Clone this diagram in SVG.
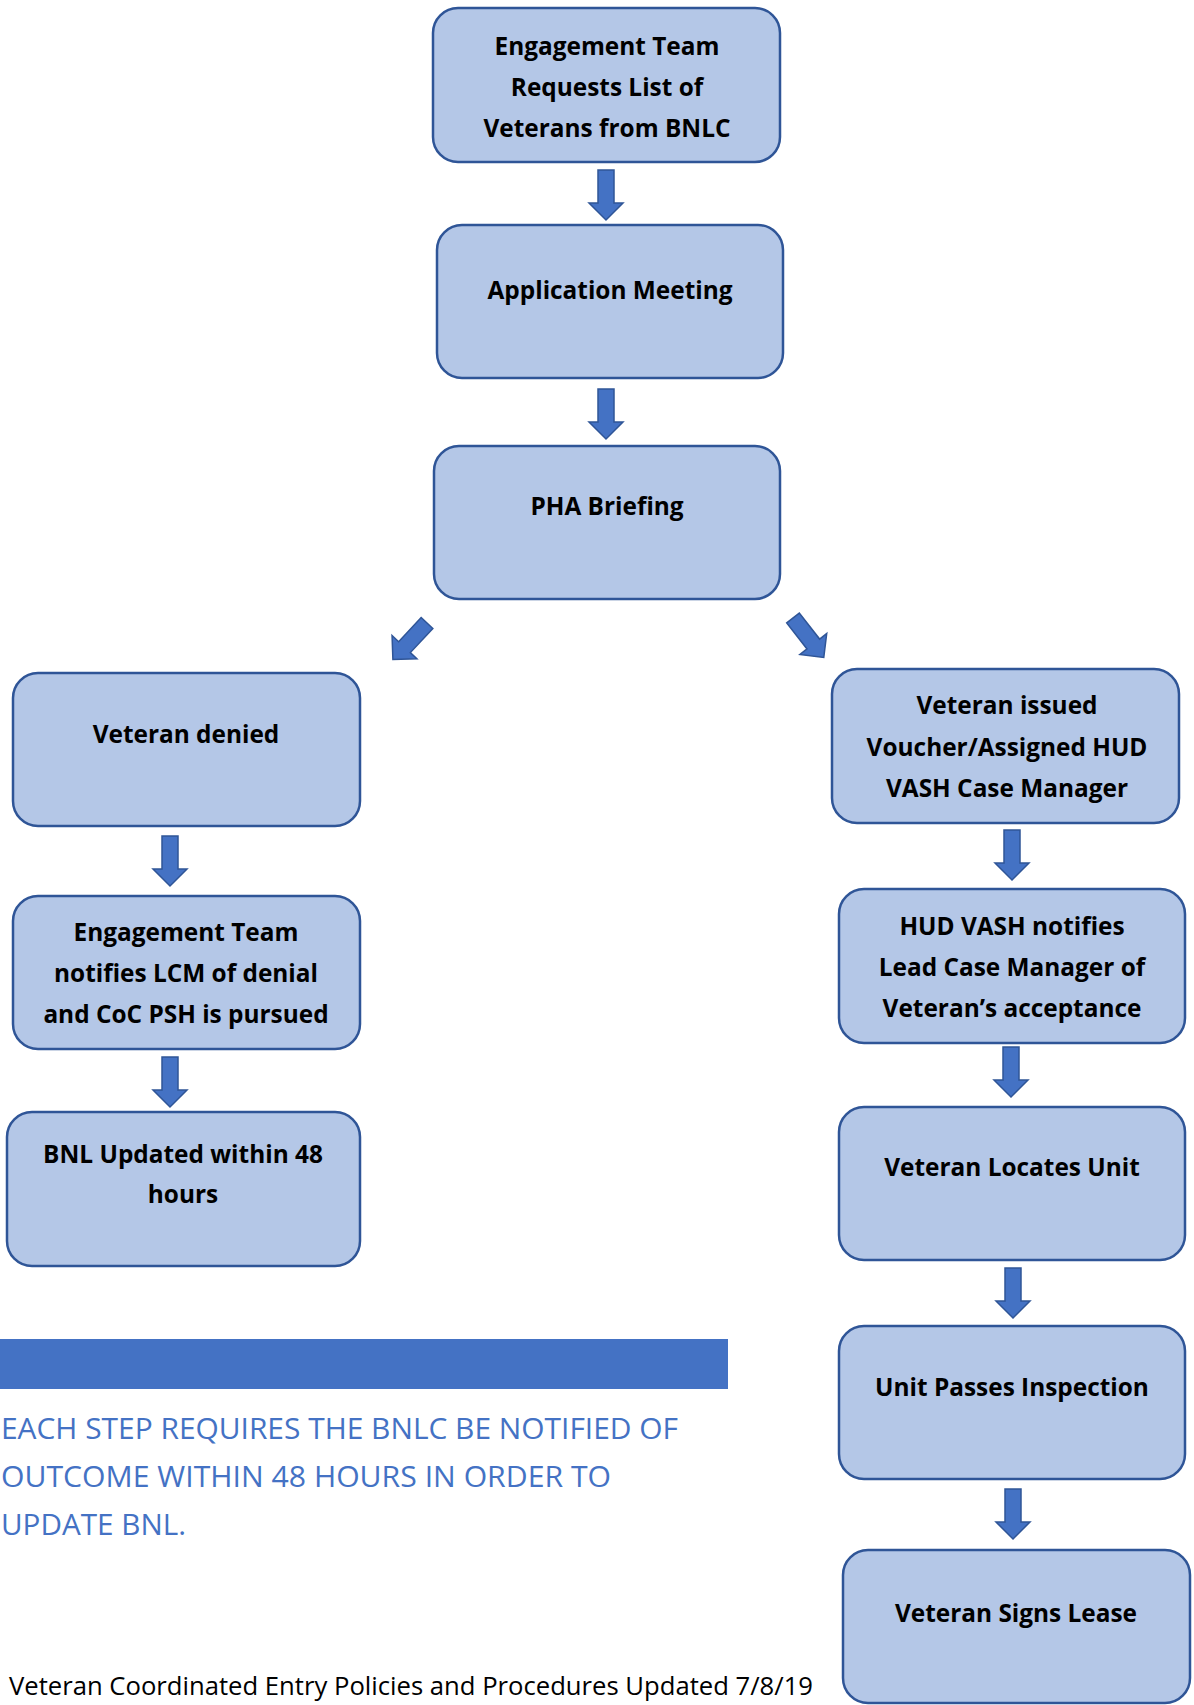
<svg xmlns="http://www.w3.org/2000/svg" width="1194" height="1705" viewBox="0 0 1194 1705">
<defs>
<style>
.box{fill:#B4C7E7;stroke:#2F5597;stroke-width:2.5}
.lbl{font-family:"Open Sans","Liberation Sans",sans-serif;font-weight:bold;font-size:24.4px;fill:#000;text-anchor:middle}
.arr{fill:#4472C4;stroke:#2F5597;stroke-width:1.5;stroke-linejoin:miter}
.note{font-family:"Open Sans","Liberation Sans",sans-serif;font-size:30px;fill:#4472C4}
.foot{font-family:"Open Sans","Liberation Sans",sans-serif;font-size:25.8px;fill:#000}
</style>
<path id="ar" d="M-8,0 H8 V33 H17 L0,50 L-17,33 H-8 Z"/>
</defs>
<rect width="1194" height="1705" fill="#fff"/>
<g id="connectors">
<use href="#ar" class="arr" transform="translate(606,170)"/>
<use href="#ar" class="arr" transform="translate(606,389)"/>
<use href="#ar" class="arr" transform="translate(427,623) rotate(43)"/>
<use href="#ar" class="arr" transform="translate(793,618) rotate(-38)"/>
<use href="#ar" class="arr" transform="translate(170,836)"/>
<use href="#ar" class="arr" transform="translate(170,1057)"/>
<use href="#ar" class="arr" transform="translate(1012,830)"/>
<use href="#ar" class="arr" transform="translate(1011,1047)"/>
<use href="#ar" class="arr" transform="translate(1013,1268)"/>
<use href="#ar" class="arr" transform="translate(1013,1489)"/>
</g>
<g id="n1"><rect class="box" x="433" y="8" width="347" height="154" rx="25"/>
<text class="lbl" x="607" y="55">Engagement Team</text><text class="lbl" x="607" y="96">Requests List of</text><text class="lbl" x="607" y="137">Veterans from BNLC</text></g>
<g id="n2"><rect class="box" x="437" y="225" width="346" height="153" rx="25"/>
<text class="lbl" x="610" y="299">Application Meeting</text></g>
<g id="n3"><rect class="box" x="434" y="446" width="346" height="153" rx="25"/>
<text class="lbl" x="607" y="515">PHA Briefing</text></g>
<g id="n4"><rect class="box" x="13" y="673" width="347" height="153" rx="25"/>
<text class="lbl" x="186" y="743">Veteran denied</text></g>
<g id="n5"><rect class="box" x="13" y="896" width="347" height="153" rx="25"/>
<text class="lbl" x="186" y="941">Engagement Team</text><text class="lbl" x="186" y="982">notifies LCM of denial</text><text class="lbl" x="186" y="1023">and CoC PSH is pursued</text></g>
<g id="n6"><rect class="box" x="7" y="1112" width="353" height="154" rx="25"/>
<text class="lbl" x="183" y="1163">BNL Updated within 48</text><text class="lbl" x="183" y="1203">hours</text></g>
<g id="n7"><rect class="box" x="832" y="669" width="347" height="154" rx="25"/>
<text class="lbl" x="1007" y="714">Veteran issued</text><text class="lbl" x="1007" y="756">Voucher/Assigned HUD</text><text class="lbl" x="1007" y="797">VASH Case Manager</text></g>
<g id="n8"><rect class="box" x="839" y="889" width="346" height="154" rx="25"/>
<text class="lbl" x="1012" y="935">HUD VASH notifies</text><text class="lbl" x="1012" y="976">Lead Case Manager of</text><text class="lbl" x="1012" y="1017">Veteran’s acceptance</text></g>
<g id="n9"><rect class="box" x="839" y="1107" width="346" height="153" rx="25"/>
<text class="lbl" x="1012" y="1176">Veteran Locates Unit</text></g>
<g id="n10"><rect class="box" x="839" y="1326" width="346" height="153" rx="25"/>
<text class="lbl" x="1012" y="1396">Unit Passes Inspection</text></g>
<g id="n11"><rect class="box" x="843" y="1550" width="347" height="153" rx="25"/>
<text class="lbl" x="1016" y="1622">Veteran Signs Lease</text></g>
<g id="note">
<rect x="0" y="1339" width="728" height="50" fill="#4472C4"/>
<text class="note" x="1" y="1439" textLength="677" lengthAdjust="spacingAndGlyphs">EACH STEP REQUIRES THE BNLC BE NOTIFIED OF</text>
<text class="note" x="1" y="1487" textLength="610" lengthAdjust="spacingAndGlyphs">OUTCOME WITHIN 48 HOURS IN ORDER TO</text>
<text class="note" x="1" y="1535" textLength="185" lengthAdjust="spacingAndGlyphs">UPDATE BNL.</text>
</g>
<text class="foot" x="9" y="1695" textLength="804" lengthAdjust="spacingAndGlyphs">Veteran Coordinated Entry Policies and Procedures Updated 7/8/19</text>
</svg>
